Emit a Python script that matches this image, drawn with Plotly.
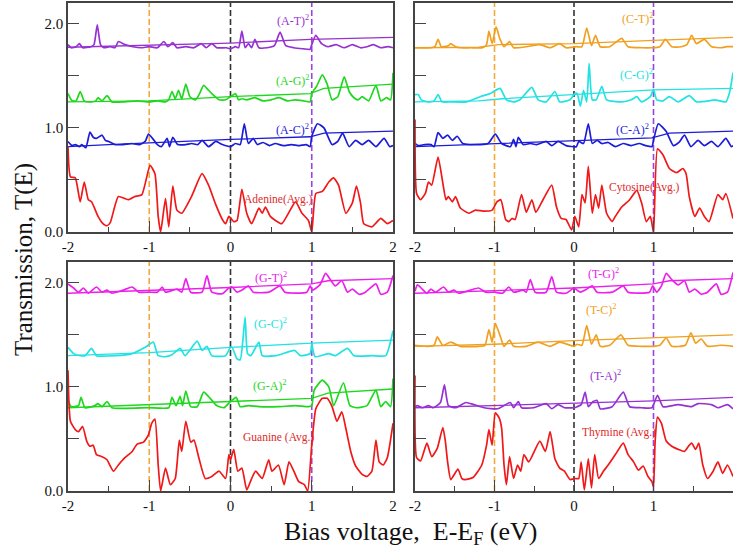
import plotly.graph_objects as go

# ---------------- data ----------------
x_ticks = [-2, -1, 0, 1, 2]
x_tick_text = ["-2", "-1", "0", "1", "2"]
x_minor = [-1.5, -0.5, 0.5, 1.5]
y_ticks = [0, 1.0, 2.0]
y_tick_text = ["0.0", "1.0", "2.0"]
y_minor = [0.5, 1.5]
ref_energies = [-1, 0, 1]

# Adenine panel
adenine_at = [(-2.00,1.80),(-1.96,1.77),(-1.90,1.78),(-1.86,1.81),(-1.82,1.77),(-1.72,1.78),(-1.68,1.80),(-1.64,1.99),(-1.60,1.80),(-1.56,1.77),(-1.48,1.78),(-1.42,1.77),(-1.38,1.83),(-1.30,1.80),(-1.20,1.78),(-1.10,1.77),(-1.00,1.78),(-0.90,1.77),(-0.82,1.83),(-0.77,1.78),(-0.71,1.82),(-0.66,1.77),(-0.55,1.78),(-0.45,1.77),(-0.36,1.81),(-0.30,1.77),(-0.23,1.81),(-0.17,1.77),(-0.05,1.77),(0.00,1.76),(0.06,1.78),(0.10,1.77),(0.14,1.93),(0.18,1.77),(0.22,1.81),(0.26,1.77),(0.30,1.85),(0.35,1.77),(0.45,1.77),(0.54,1.79),(0.61,1.92),(0.68,1.79),(0.78,1.77),(0.90,1.76),(0.98,1.755),(1.00,1.80),(1.05,1.89),(1.12,1.81),(1.20,1.78),(1.30,1.80),(1.40,1.77),(1.50,1.80),(1.60,1.77),(1.68,1.78),(1.76,1.80),(1.85,1.77),(1.94,1.78),(2.00,1.77)]
adenine_at_trend = [(-2,1.775),(0,1.815),(0.98,1.85),(2,1.87)]
adenine_ag = [(-2.00,1.33),(-1.95,1.26),(-1.90,1.26),(-1.85,1.35),(-1.80,1.26),(-1.72,1.25),(-1.66,1.26),(-1.63,1.29),(-1.58,1.26),(-1.52,1.31),(-1.46,1.25),(-1.30,1.25),(-1.15,1.26),(-1.00,1.25),(-0.90,1.26),(-0.80,1.25),(-0.76,1.27),(-0.72,1.35),(-0.68,1.28),(-0.64,1.36),(-0.60,1.28),(-0.55,1.42),(-0.50,1.30),(-0.43,1.27),(-0.38,1.33),(-0.33,1.41),(-0.28,1.37),(-0.23,1.33),(-0.14,1.27),(-0.06,1.27),(0.00,1.30),(0.06,1.33),(0.10,1.27),(0.14,1.28),(0.20,1.27),(0.30,1.29),(0.40,1.26),(0.50,1.27),(0.60,1.29),(0.70,1.26),(0.80,1.27),(0.90,1.26),(0.98,1.25),(1.00,1.33),(1.06,1.40),(1.13,1.51),(1.19,1.42),(1.25,1.27),(1.32,1.30),(1.40,1.49),(1.46,1.35),(1.52,1.29),(1.57,1.27),(1.62,1.30),(1.70,1.26),(1.79,1.41),(1.85,1.26),(1.92,1.29),(1.97,1.27),(2.00,1.53)]
adenine_ag_trend = [(-2,1.25),(-1,1.26),(0,1.30),(0.98,1.33),(1.15,1.38),(2,1.42)]
adenine_ac = [(-2.00,0.87),(-1.95,0.83),(-1.91,0.84),(-1.86,0.82),(-1.83,0.84),(-1.78,0.81),(-1.73,0.96),(-1.69,0.91),(-1.65,0.90),(-1.58,0.93),(-1.54,0.88),(-1.50,0.87),(-1.42,0.84),(-1.32,0.84),(-1.22,0.85),(-1.12,0.84),(-1.05,0.87),(-1.01,0.94),(-0.96,0.90),(-0.90,0.84),(-0.85,0.82),(-0.78,0.90),(-0.75,0.82),(-0.71,0.91),(-0.65,0.84),(-0.55,0.84),(-0.48,0.85),(-0.40,0.84),(-0.35,0.88),(-0.27,0.82),(-0.18,0.87),(-0.10,0.84),(0.00,0.82),(0.06,0.85),(0.12,0.84),(0.17,1.04),(0.22,0.85),(0.28,0.90),(0.33,0.84),(0.40,0.86),(0.48,0.83),(0.55,0.85),(0.65,0.83),(0.75,0.84),(0.85,0.83),(0.93,0.84),(0.98,0.82),(1.00,0.92),(1.07,1.04),(1.15,1.00),(1.25,0.84),(1.32,0.87),(1.38,0.95),(1.46,0.82),(1.54,0.88),(1.62,0.84),(1.70,0.88),(1.79,0.82),(1.89,0.90),(1.96,0.82),(2.00,0.83)]
adenine_ac_trend = [(-2,0.82),(-1.5,0.84),(0,0.89),(0.98,0.915),(1.15,0.95),(2,0.97)]
adenine_avg = [(-2.00,0.82),(-1.97,0.53),(-1.91,0.52),(-1.85,0.29),(-1.80,0.48),(-1.75,0.31),(-1.71,0.29),(-1.63,0.15),(-1.57,0.08),(-1.52,0.06),(-1.48,0.09),(-1.38,0.34),(-1.26,0.31),(-1.18,0.34),(-1.09,0.36),(-0.99,0.64),(-0.93,0.56),(-0.89,0.15),(-0.86,0.0),(-0.80,0.32),(-0.76,0.05),(-0.71,0.44),(-0.66,0.21),(-0.60,0.18),(-0.48,0.34),(-0.35,0.56),(-0.27,0.45),(-0.18,0.26),(-0.10,0.12),(-0.06,0.08),(-0.02,0.15),(0.04,0.10),(0.08,0.11),(0.14,0.41),(0.20,0.18),(0.26,0.08),(0.35,0.23),(0.39,0.18),(0.43,0.24),(0.49,0.15),(0.63,0.08),(0.80,0.29),(0.88,0.18),(0.96,0.11),(1.00,0.0),(1.05,0.37),(1.13,0.39),(1.21,0.48),(1.27,0.52),(1.33,0.45),(1.42,0.18),(1.50,0.28),(1.55,0.44),(1.60,0.28),(1.64,0.08),(1.74,0.05),(1.85,0.13),(1.93,0.08),(2.00,0.11)]

# Cytosine panel
cytosine_ct = [(-2.00,1.77),(-1.80,1.77),(-1.75,1.78),(-1.71,1.85),(-1.67,1.78),(-1.64,1.78),(-1.58,1.79),(-1.55,1.81),(-1.49,1.78),(-1.43,1.77),(-1.30,1.77),(-1.15,1.77),(-1.10,1.80),(-1.07,1.93),(-1.03,1.81),(-0.98,1.97),(-0.93,1.85),(-0.88,1.78),(-0.81,1.83),(-0.76,1.77),(-0.60,1.78),(-0.43,1.80),(-0.30,1.77),(-0.18,1.81),(-0.10,1.77),(0.03,1.78),(0.10,1.78),(0.16,1.96),(0.22,1.79),(0.27,1.89),(0.33,1.78),(0.45,1.78),(0.60,1.86),(0.68,1.78),(0.85,1.77),(0.98,1.77),(1.08,1.78),(1.15,1.85),(1.23,1.78),(1.35,1.78),(1.42,1.80),(1.48,1.89),(1.54,1.81),(1.64,1.85),(1.73,1.78),(1.85,1.77),(1.92,1.78),(2.00,1.78)]
cytosine_ct_trend = [(-2,1.77),(-1.2,1.775),(-0.95,1.80),(0,1.81),(1,1.84),(2,1.87)]
cytosine_cg = [(-2.00,1.32),(-1.96,1.32),(-1.92,1.27),(-1.84,1.25),(-1.76,1.26),(-1.71,1.32),(-1.66,1.25),(-1.55,1.25),(-1.35,1.25),(-1.18,1.30),(-1.05,1.33),(-1.01,1.35),(-0.93,1.38),(-0.85,1.27),(-0.76,1.25),(-0.68,1.27),(-0.61,1.33),(-0.53,1.39),(-0.45,1.27),(-0.35,1.25),(-0.24,1.35),(-0.18,1.25),(-0.05,1.27),(0.01,1.33),(0.04,1.33),(0.08,1.21),(0.12,1.36),(0.16,1.25),(0.19,1.62),(0.23,1.27),(0.28,1.27),(0.35,1.40),(0.41,1.27),(0.60,1.25),(0.72,1.27),(0.79,1.30),(0.85,1.25),(0.96,1.30),(1.00,1.37),(1.04,1.27),(1.12,1.26),(1.20,1.30),(1.31,1.25),(1.45,1.31),(1.54,1.25),(1.70,1.26),(1.77,1.27),(1.91,1.25),(1.96,1.35),(2.00,1.53)]
cytosine_cg_trend = [(-2,1.25),(-1.2,1.26),(-0.9,1.28),(0,1.32),(1,1.365),(2,1.38)]
cytosine_ca = [(-2.00,0.85),(-1.96,0.83),(-1.88,0.84),(-1.80,0.84),(-1.76,0.82),(-1.71,0.955),(-1.65,0.90),(-1.59,0.93),(-1.53,0.88),(-1.47,0.92),(-1.40,0.85),(-1.30,0.84),(-1.18,0.84),(-1.08,0.85),(-0.99,0.94),(-0.91,0.85),(-0.80,0.82),(-0.76,0.89),(-0.73,0.82),(-0.70,0.91),(-0.64,0.84),(-0.55,0.85),(-0.47,0.84),(-0.35,0.87),(-0.28,0.83),(-0.20,0.87),(-0.10,0.83),(0.03,0.82),(0.06,0.87),(0.12,0.85),(0.18,1.04),(0.23,0.85),(0.29,0.88),(0.35,0.85),(0.43,0.86),(0.52,0.82),(0.62,0.85),(0.72,0.83),(0.82,0.85),(0.90,0.83),(0.98,0.82),(1.00,0.88),(1.06,1.04),(1.16,0.965),(1.25,0.83),(1.32,0.86),(1.39,0.93),(1.47,0.82),(1.56,0.88),(1.64,0.83),(1.73,0.87),(1.81,0.82),(1.91,0.90),(1.98,0.82),(2.00,0.83)]
cytosine_ca_trend = [(-2,0.82),(-1,0.85),(0,0.88),(0.98,0.905),(1.2,0.95),(2,0.97)]
cytosine_avg = [(-2.00,1.08),(-1.98,0.37),(-1.93,0.31),(-1.87,0.37),(-1.83,0.48),(-1.79,0.45),(-1.71,0.72),(-1.65,0.47),(-1.61,0.31),(-1.58,0.34),(-1.53,0.29),(-1.49,0.34),(-1.43,0.23),(-1.32,0.18),(-1.24,0.21),(-1.14,0.20),(-1.03,0.21),(-0.97,0.29),(-0.92,0.31),(-0.86,0.12),(-0.82,0.10),(-0.78,0.13),(-0.74,0.12),(-0.66,0.36),(-0.60,0.19),(-0.53,0.31),(-0.48,0.19),(-0.39,0.31),(-0.28,0.45),(-0.22,0.24),(-0.16,0.13),(-0.10,0.12),(-0.03,0.02),(0.01,0.15),(0.06,0.05),(0.10,0.36),(0.14,0.28),(0.18,0.63),(0.23,0.18),(0.27,0.36),(0.31,0.23),(0.35,0.45),(0.41,0.18),(0.48,0.10),(0.52,0.15),(0.60,0.24),(0.70,0.31),(0.79,0.40),(0.85,0.28),(0.91,0.10),(0.96,0.15),(1.00,0.0),(1.05,0.80),(1.12,0.74),(1.20,0.61),(1.29,0.57),(1.37,0.61),(1.41,0.56),(1.45,0.34),(1.52,0.15),(1.58,0.23),(1.64,0.15),(1.70,0.10),(1.81,0.36),(1.87,0.31),(1.91,0.37),(2.00,0.13)]

# Guanine panel
guanine_gt = [(-2.00,1.99),(-1.93,1.95),(-1.87,1.91),(-1.81,1.95),(-1.75,1.90),(-1.65,1.96),(-1.58,1.91),(-1.52,1.93),(-1.46,1.90),(-1.32,1.93),(-1.21,1.96),(-1.13,1.91),(-1.00,1.91),(-0.90,1.91),(-0.84,1.96),(-0.80,1.91),(-0.66,1.94),(-0.60,1.91),(-0.55,2.04),(-0.49,1.91),(-0.35,1.91),(-0.29,2.07),(-0.23,1.91),(-0.10,1.895),(-0.02,1.95),(0.02,1.96),(0.08,1.91),(0.14,1.93),(0.22,1.97),(0.28,1.91),(0.47,1.91),(0.61,1.97),(0.67,1.91),(0.94,1.91),(0.98,1.97),(1.01,1.93),(1.10,1.98),(1.17,2.09),(1.23,2.03),(1.29,1.97),(1.37,2.02),(1.44,1.91),(1.50,1.94),(1.58,1.89),(1.66,1.91),(1.79,1.99),(1.85,1.89),(1.93,1.91),(2.00,2.07)]
guanine_gt_trend = [(-2,1.90),(0,1.955),(1,1.99),(1.2,2.02),(2,2.04)]
guanine_gc = [(-2.00,1.38),(-1.93,1.32),(-1.85,1.30),(-1.79,1.30),(-1.71,1.37),(-1.65,1.30),(-1.42,1.30),(-1.21,1.32),(-1.05,1.38),(-0.95,1.43),(-0.89,1.30),(-0.80,1.29),(-0.72,1.31),(-0.62,1.37),(-0.56,1.30),(-0.41,1.44),(-0.35,1.35),(-0.29,1.39),(-0.23,1.30),(-0.06,1.30),(0.00,1.38),(0.02,1.38),(0.08,1.27),(0.12,1.26),(0.15,1.43),(0.18,1.67),(0.21,1.32),(0.25,1.30),(0.35,1.43),(0.39,1.30),(0.56,1.30),(0.79,1.35),(0.86,1.30),(0.98,1.32),(1.00,1.41),(1.04,1.29),(1.21,1.32),(1.29,1.30),(1.44,1.37),(1.52,1.30),(1.75,1.30),(1.91,1.30),(2.00,1.54)]
guanine_gc_trend = [(-2,1.30),(-1,1.33),(0,1.38),(1,1.42),(2,1.45)]
guanine_ga = [(-2.00,0.87),(-1.96,0.81),(-1.87,0.82),(-1.84,0.90),(-1.79,0.80),(-1.67,0.82),(-1.63,0.84),(-1.58,0.81),(-1.52,0.86),(-1.46,0.80),(-1.01,0.80),(-0.76,0.80),(-0.72,0.90),(-0.67,0.82),(-0.62,0.91),(-0.59,0.82),(-0.55,0.96),(-0.49,0.81),(-0.41,0.81),(-0.33,0.95),(-0.25,0.89),(-0.17,0.82),(-0.08,0.80),(0.00,0.86),(0.07,0.90),(0.12,0.81),(0.22,0.82),(0.35,0.81),(0.59,0.81),(0.80,0.82),(0.96,0.81),(1.00,0.82),(1.03,0.97),(1.13,1.065),(1.21,1.00),(1.27,0.82),(1.39,1.04),(1.47,0.82),(1.55,0.80),(1.68,0.82),(1.79,0.97),(1.85,0.81),(1.91,0.86),(1.97,0.81),(2.00,1.08)]
guanine_ga_trend = [(-2,0.80),(0,0.86),(1,0.89),(1.2,0.94),(2,0.98)]
guanine_avg = [(-2.00,1.16),(-1.97,0.67),(-1.91,0.59),(-1.87,0.57),(-1.82,0.62),(-1.77,0.48),(-1.73,0.43),(-1.69,0.44),(-1.65,0.35),(-1.58,0.33),(-1.52,0.30),(-1.48,0.24),(-1.44,0.19),(-1.38,0.25),(-1.30,0.32),(-1.21,0.38),(-1.15,0.45),(-1.07,0.47),(-1.01,0.54),(-0.97,0.65),(-0.93,0.69),(-0.89,0.25),(-0.86,0.0),(-0.80,0.22),(-0.74,0.06),(-0.68,0.12),(-0.63,0.49),(-0.60,0.38),(-0.55,0.67),(-0.49,0.47),(-0.45,0.49),(-0.39,0.32),(-0.31,0.12),(-0.23,0.14),(-0.14,0.19),(-0.06,0.12),(-0.02,0.35),(0.00,0.30),(0.04,0.40),(0.09,0.19),(0.14,0.22),(0.20,0.01),(0.26,0.12),(0.31,0.19),(0.39,0.12),(0.47,0.30),(0.51,0.19),(0.59,0.25),(0.66,0.06),(0.72,0.28),(0.78,0.19),(0.84,0.09),(0.91,0.06),(0.95,0.0),(1.00,0.44),(1.05,0.79),(1.13,0.89),(1.19,0.89),(1.25,0.81),(1.31,0.67),(1.37,0.76),(1.42,0.60),(1.48,0.38),(1.54,0.24),(1.62,0.16),(1.68,0.14),(1.74,0.19),(1.79,0.49),(1.83,0.28),(1.88,0.25),(1.93,0.32),(2.00,0.65)]

# Thymine panel
thymine_tg = [(-2.00,1.92),(-1.97,1.98),(-1.91,1.94),(-1.85,1.90),(-1.80,1.94),(-1.74,1.91),(-1.64,1.96),(-1.58,1.91),(-1.51,1.93),(-1.45,1.90),(-1.30,1.93),(-1.20,1.95),(-1.11,1.91),(-1.00,1.91),(-0.90,1.90),(-0.82,1.96),(-0.76,1.91),(-0.64,1.93),(-0.60,1.91),(-0.55,2.03),(-0.49,1.91),(-0.35,1.91),(-0.28,2.06),(-0.22,1.91),(-0.10,1.90),(0.00,1.95),(0.02,1.94),(0.08,1.91),(0.14,1.93),(0.23,1.97),(0.29,1.91),(0.48,1.91),(0.62,1.97),(0.68,1.91),(0.95,1.91),(0.99,1.97),(1.04,1.91),(1.10,1.97),(1.16,2.09),(1.23,2.03),(1.31,1.98),(1.39,2.02),(1.45,1.91),(1.52,1.94),(1.60,1.89),(1.68,1.91),(1.79,1.99),(1.85,1.89),(1.93,1.91),(2.00,2.10)]
thymine_tg_trend = [(-2,1.90),(0,1.95),(1,1.99),(1.2,2.02),(2,2.04)]
thymine_tc = [(-2.00,1.40),(-1.85,1.39),(-1.76,1.40),(-1.72,1.48),(-1.65,1.40),(-1.55,1.43),(-1.43,1.39),(-1.20,1.39),(-1.12,1.40),(-1.07,1.55),(-1.03,1.43),(-0.99,1.61),(-0.92,1.47),(-0.88,1.39),(-0.81,1.45),(-0.76,1.39),(-0.60,1.39),(-0.45,1.43),(-0.30,1.39),(-0.18,1.43),(0.00,1.39),(0.04,1.41),(0.10,1.40),(0.16,1.59),(0.22,1.41),(0.28,1.50),(0.33,1.39),(0.45,1.40),(0.59,1.50),(0.68,1.40),(0.85,1.39),(0.99,1.39),(1.08,1.40),(1.16,1.47),(1.23,1.39),(1.40,1.40),(1.47,1.52),(1.53,1.42),(1.60,1.46),(1.68,1.39),(1.85,1.40),(2.00,1.39)]
thymine_tc_trend = [(-2,1.39),(-1,1.41),(0,1.445),(1,1.47),(2,1.50)]
thymine_ta = [(-2.00,0.81),(-1.97,0.82),(-1.91,0.80),(-1.83,0.82),(-1.77,0.80),(-1.68,0.85),(-1.63,1.02),(-1.58,0.82),(-1.49,0.80),(-1.36,0.85),(-1.26,0.83),(-1.13,0.80),(-0.96,0.79),(-0.80,0.85),(-0.76,0.80),(-0.70,0.86),(-0.66,0.80),(-0.51,0.80),(-0.35,0.84),(-0.28,0.79),(-0.20,0.83),(-0.12,0.80),(0.00,0.80),(0.04,0.81),(0.09,0.83),(0.14,0.95),(0.18,0.81),(0.24,0.86),(0.29,0.87),(0.33,0.79),(0.48,0.81),(0.62,0.95),(0.70,0.81),(0.85,0.80),(0.98,0.80),(1.05,0.92),(1.12,0.81),(1.31,0.83),(1.48,0.81),(1.56,0.84),(1.73,0.83),(1.81,0.80),(1.93,0.83),(2.00,0.79)]
thymine_ta_trend = [(-2,0.80),(0,0.84),(1,0.865),(2,0.90)]
thymine_avg = [(-2.00,1.11),(-1.98,0.32),(-1.93,0.29),(-1.85,0.46),(-1.79,0.33),(-1.72,0.41),(-1.65,0.61),(-1.62,0.49),(-1.59,0.28),(-1.55,0.11),(-1.46,0.21),(-1.41,0.12),(-1.37,0.11),(-1.27,0.13),(-1.16,0.25),(-1.10,0.44),(-1.07,0.59),(-1.03,0.44),(-0.99,0.75),(-0.94,0.70),(-0.91,0.60),(-0.88,0.25),(-0.85,0.06),(-0.81,0.33),(-0.76,0.12),(-0.71,0.25),(-0.67,0.19),(-0.63,0.35),(-0.57,0.28),(-0.43,0.48),(-0.36,0.38),(-0.30,0.57),(-0.24,0.31),(-0.18,0.22),(-0.12,0.19),(-0.05,0.11),(0.01,0.12),(0.06,0.12),(0.09,0.28),(0.13,0.01),(0.18,0.31),(0.22,0.03),(0.26,0.35),(0.31,0.12),(0.37,0.19),(0.43,0.25),(0.52,0.35),(0.62,0.46),(0.68,0.35),(0.75,0.28),(0.81,0.20),(0.87,0.24),(0.93,0.14),(0.98,0.09),(1.00,0.04),(1.02,0.47),(1.05,0.71),(1.10,0.65),(1.16,0.48),(1.23,0.43),(1.31,0.40),(1.39,0.38),(1.44,0.43),(1.48,0.46),(1.53,0.40),(1.57,0.46),(1.62,0.25),(1.68,0.12),(1.75,0.19),(1.81,0.28),(1.87,0.17),(1.93,0.25),(2.00,0.14)]

# ---------------- styling ----------------
RED = "#f01818"
PURPLE = "#9632d2"
GREEN = "#1ed81e"
BLUE = "#1c1cd8"
ORANGE = "#f0a020"
CYAN = "#22e2e2"
MAGENTA = "#ec20ec"
REF_COLORS = ["#f2a83a", "#333333", "#9a44e0"]
FONT = "Liberation Serif, Times New Roman, DejaVu Serif, serif"
AXIS_COLOR = "#444444"

# panels: (axis suffix, x domain, y domain, show y labels, curves, labels)
panels = [
    ("", [68/733, 393/733], [320/552, 549/552], True,
     [(adenine_at, adenine_at_trend, PURPLE), (adenine_ag, adenine_ag_trend, GREEN),
      (adenine_ac, adenine_ac_trend, BLUE), (adenine_avg, None, RED)],
     [("(A-T)<sup>2</sup>", 0.77, 2.03, PURPLE), ("(A-G)<sup>2</sup>", 0.77, 1.46, GREEN),
      ("(A-C)<sup>2</sup>", 0.76, 0.98, BLUE), ("Adenine(Avg.)", 0.59, 0.31, "#e02a2a")]),
    ("2", [415/733, 1.0], [320/552, 549/552], False,
     [(cytosine_ct, cytosine_ct_trend, ORANGE), (cytosine_cg, cytosine_cg_trend, CYAN),
      (cytosine_ca, cytosine_ca_trend, BLUE), (cytosine_avg, None, RED)],
     [("(C-T)<sup>2</sup>", 0.8, 2.05, ORANGE), ("(C-G)<sup>2</sup>", 0.78, 1.51, CYAN),
      ("(C-A)<sup>2</sup>", 0.74, 0.98, BLUE), ("Cytosine(Avg.)", 0.89, 0.43, "#e02a2a")]),
    ("3", [68/733, 393/733], [61/552, 290/552], True,
     [(guanine_gt, guanine_gt_trend, MAGENTA), (guanine_gc, guanine_gc_trend, CYAN),
      (guanine_ga, guanine_ga_trend, GREEN), (guanine_avg, None, RED)],
     [("(G-T)<sup>2</sup>", 0.5, 2.05, MAGENTA), ("(G-C)<sup>2</sup>", 0.49, 1.61, CYAN),
      ("(G-A)<sup>2</sup>", 0.48, 1.01, GREEN), ("Guanine (Avg.)", 0.59, 0.51, "#e02a2a")]),
    ("4", [415/733, 1.0], [61/552, 290/552], False,
     [(thymine_tg, thymine_tg_trend, MAGENTA), (thymine_tc, thymine_tc_trend, ORANGE),
      (thymine_ta, thymine_ta_trend, PURPLE), (thymine_avg, None, RED)],
     [("(T-G)<sup>2</sup>", 0.37, 2.09, MAGENTA), ("(T-C)<sup>2</sup>", 0.34, 1.74, ORANGE),
      ("(T-A)<sup>2</sup>", 0.39, 1.11, PURPLE), ("Thymine (Avg.)", 0.56, 0.56, "#e02a2a")]),
]

fig = go.Figure()
annotations = []
shapes = []
layout_axes = {}

for suffix, xdom, ydom, ylabels, curves, labels in panels:
    xa = "x" + suffix
    ya = "y" + suffix
    for series, trend, color in curves:
        fig.add_trace(go.Scatter(
            x=[p[0] for p in series], y=[p[1] for p in series], xaxis=xa, yaxis=ya,
            mode="lines", line=dict(color=color, width=1.7, shape="spline", smoothing=0.5),
            showlegend=False, hoverinfo="skip"))
        if trend is not None:
            fig.add_trace(go.Scatter(
                x=[p[0] for p in trend], y=[p[1] for p in trend], xaxis=xa, yaxis=ya,
                mode="lines", line=dict(color=color, width=1.3),
                showlegend=False, hoverinfo="skip"))
    for e, c in zip(ref_energies, REF_COLORS):
        shapes.append(dict(type="line", xref=xa, yref=ya + " domain", x0=e, x1=e, y0=0, y1=1,
                           line=dict(color=c, width=1.6, dash="6px,3px"), layer="below"))
    for text, lx, ly, c in labels:
        annotations.append(dict(text=text, x=lx, y=ly, xref=xa, yref=ya, showarrow=False,
                                font=dict(family=FONT, size=12 if "Avg" not in text else 11.5, color=c),
                                xanchor="center", yanchor="middle"))
    axis_common = dict(showgrid=False, zeroline=False, showline=True, linecolor=AXIS_COLOR,
                       linewidth=1.5, mirror=True, ticks="inside", tickcolor=AXIS_COLOR,
                       tickwidth=1.2, ticklen=11,
                       tickfont=dict(family=FONT, size=15, color="#111111"))
    layout_axes["xaxis" + suffix] = dict(
        axis_common, domain=xdom, anchor=ya, range=[-2, 2], tickvals=x_ticks,
        ticktext=x_tick_text,
        minor=dict(tickvals=x_minor, ticks="inside", ticklen=5, tickcolor=AXIS_COLOR, tickwidth=1.2))
    layout_axes["yaxis" + suffix] = dict(
        axis_common, domain=ydom, anchor=xa, range=[0, 2.2], tickvals=y_ticks,
        ticktext=y_tick_text, showticklabels=ylabels,
        minor=dict(tickvals=y_minor, ticks="inside", ticklen=11, tickcolor=AXIS_COLOR, tickwidth=1.2))

annotations.append(dict(text="Transmission, T(E)", x=24/733, y=292/552, xref="paper", yref="paper",
                        showarrow=False, textangle=-90, font=dict(family=FONT, size=25, color="#111111"),
                        xanchor="center", yanchor="middle"))
annotations.append(dict(text="Bias voltage,&nbsp; E-E<sub>F</sub> (eV)", x=410/733, y=19/552,
                        xref="paper", yref="paper", showarrow=False,
                        font=dict(family=FONT, size=26, color="#111111"),
                        xanchor="center", yanchor="middle"))

fig.update_layout(
    width=733, height=552, margin=dict(l=0, r=0, t=0, b=0, autoexpand=False),
    paper_bgcolor="white", plot_bgcolor="white",
    annotations=annotations, shapes=shapes, **layout_axes)

fig.write_html("out.html", config={"displayModeBar": False},
               post_script="document.body.style.margin='0px';document.body.style.overflow='hidden';")
